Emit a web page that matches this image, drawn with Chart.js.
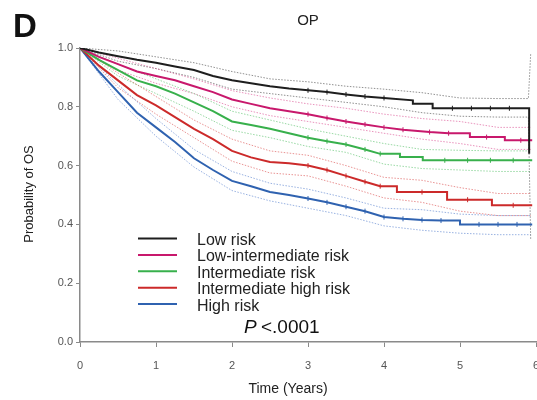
<!DOCTYPE html>
<html>
<head>
<meta charset="utf-8">
<script src="https://cdn.jsdelivr.net/npm/chart.js@4.4.1/dist/chart.umd.min.js"></script>
<style>
  html, body { margin: 0; padding: 0; background: #fff; overflow: hidden; }
  #wrap { position: relative; width: 537px; height: 400px; }
</style>
</head>
<body>
<div id="wrap"><canvas id="kmChart"></canvas></div>
<script>
// survival estimates (years -> probability of OS)
// repeated times are the vertical drops of the step curves
const lowRiskTimes = [0, 0.25, 0.5, 0.75, 1, 1.25, 1.5, 1.75, 2, 2.25, 2.5, 2.75, 3, 3.25, 3.5, 3.75, 4, 4.38, 4.38, 4.64, 4.64, 4.9, 5.15, 5.4, 5.65, 5.91, 5.91];
const lowRisk = [1, 0.985, 0.972, 0.96, 0.95, 0.937, 0.925, 0.905, 0.89, 0.88, 0.87, 0.862, 0.856, 0.85, 0.842, 0.835, 0.83, 0.822, 0.81, 0.81, 0.795, 0.795, 0.795, 0.795, 0.795, 0.795, 0.64];
const lowIntTimes = [0, 0.25, 0.5, 0.75, 1, 1.25, 1.5, 1.75, 2, 2.25, 2.5, 2.75, 3, 3.25, 3.5, 3.75, 4, 4.25, 4.6, 4.85, 5.13, 5.13, 5.35, 5.59, 5.59, 5.8, 5.95];
const lowIntRisk = [1, 0.97, 0.945, 0.92, 0.905, 0.89, 0.87, 0.85, 0.825, 0.81, 0.795, 0.785, 0.775, 0.762, 0.75, 0.74, 0.73, 0.722, 0.714, 0.71, 0.71, 0.697, 0.697, 0.697, 0.686, 0.686, 0.686];
const intTimes = [0, 0.25, 0.5, 0.75, 1, 1.25, 1.5, 1.75, 2, 2.25, 2.5, 2.75, 3, 3.25, 3.5, 3.75, 3.95, 4.21, 4.21, 4.51, 4.51, 4.8, 5.1, 5.4, 5.7, 5.95];
const intRisk = [1, 0.96, 0.925, 0.89, 0.87, 0.845, 0.815, 0.785, 0.75, 0.738, 0.725, 0.71, 0.695, 0.683, 0.672, 0.655, 0.64, 0.64, 0.629, 0.629, 0.618, 0.618, 0.618, 0.618, 0.618, 0.618];
const intHighTimes = [0, 0.25, 0.5, 0.75, 1, 1.25, 1.5, 1.75, 2, 2.25, 2.5, 2.75, 3, 3.25, 3.5, 3.75, 3.95, 4.17, 4.17, 4.5, 4.83, 4.83, 5.1, 5.42, 5.42, 5.7, 5.95];
const intHighRisk = [1, 0.94, 0.89, 0.84, 0.805, 0.765, 0.725, 0.69, 0.65, 0.628, 0.612, 0.608, 0.6, 0.585, 0.565, 0.545, 0.53, 0.53, 0.51, 0.51, 0.51, 0.484, 0.484, 0.484, 0.465, 0.465, 0.465];
const highTimes = [0, 0.25, 0.5, 0.75, 1, 1.25, 1.5, 1.75, 2, 2.25, 2.5, 2.75, 3, 3.25, 3.5, 3.75, 4, 4.25, 4.5, 4.75, 5, 5, 5.25, 5.5, 5.75, 5.95];
const highRisk = [1, 0.92, 0.85, 0.78, 0.73, 0.68, 0.625, 0.585, 0.548, 0.53, 0.51, 0.5, 0.488, 0.475, 0.46, 0.445, 0.425, 0.419, 0.415, 0.413, 0.413, 0.4, 0.4, 0.4, 0.4, 0.4];

// 95% confidence bands (dotted)
const ciTimes = [0, 0.5, 1, 1.5, 2, 2.5, 3, 3.5, 4, 4.5, 5, 5.5, 5.9, 5.93];
const lowUpper = [1, 0.99, 0.97, 0.95, 0.92, 0.895, 0.885, 0.87, 0.86, 0.848, 0.83, 0.828, 0.828, 0.98];
const lowLower = [1, 0.955, 0.93, 0.9, 0.86, 0.845, 0.83, 0.815, 0.8, 0.78, 0.768, 0.765, 0.765, 0.35];
const lowIntUpper = [1, 0.965, 0.93, 0.895, 0.855, 0.83, 0.81, 0.795, 0.775, 0.76, 0.75, 0.73, 0.73, 0.73];
const lowIntLower = [1, 0.925, 0.88, 0.845, 0.8, 0.77, 0.75, 0.73, 0.71, 0.69, 0.675, 0.655, 0.655, 0.655];
const intUpper = [1, 0.945, 0.895, 0.845, 0.785, 0.755, 0.725, 0.7, 0.675, 0.655, 0.652, 0.65, 0.65, 0.65];
const intLower = [1, 0.905, 0.845, 0.785, 0.72, 0.695, 0.665, 0.645, 0.605, 0.59, 0.585, 0.58, 0.58, 0.58];
const intHighUpper = [1, 0.915, 0.835, 0.755, 0.69, 0.65, 0.635, 0.6, 0.56, 0.55, 0.525, 0.505, 0.505, 0.505];
const intHighLower = [1, 0.865, 0.775, 0.695, 0.615, 0.575, 0.565, 0.53, 0.49, 0.475, 0.445, 0.43, 0.43, 0.43];
const highUpper = [1, 0.875, 0.76, 0.655, 0.58, 0.54, 0.52, 0.49, 0.455, 0.45, 0.435, 0.43, 0.43, 0.43];
const highLower = [1, 0.825, 0.7, 0.595, 0.515, 0.48, 0.455, 0.43, 0.395, 0.38, 0.37, 0.365, 0.365, 0.365];

const seriesNames = ["Low risk", "Low-intermediate risk", "Intermediate risk", "Intermediate high risk", "High risk"];
const xTicks = [0, 1, 2, 3, 4, 5, 6];
const yTicks = [0, 0.2, 0.4, 0.6, 0.8, 1.0];

const lineColors = ["#1e1e1e", "#c8186c", "#38b04c", "#cc2a2a", "#2f62b0"];
const ciColors = ["rgba(70,70,70,0.6)", "rgba(215,60,135,0.55)", "rgba(70,185,90,0.55)", "rgba(215,60,60,0.55)", "rgba(70,115,200,0.55)"];

function toPoints(xs, ys) {
  return xs.map((x, i) => ({ x: x, y: ys[i] }));
}

// censor ticks only on the later, non-vertical points
function censorRadius(ctx) {
  const data = ctx.dataset.data;
  const p = data[ctx.dataIndex];
  if (!p || p.x < 3 || p.x > 5.9) return 0;
  const prev = data[ctx.dataIndex - 1];
  const next = data[ctx.dataIndex + 1];
  if ((prev && prev.x === p.x) || (next && next.x === p.x)) return 0;
  return 2.5;
}

const mainTimes = [lowRiskTimes, lowIntTimes, intTimes, intHighTimes, highTimes];
const mainSeries = [lowRisk, lowIntRisk, intRisk, intHighRisk, highRisk];
const upperSeries = [lowUpper, lowIntUpper, intUpper, intHighUpper, highUpper];
const lowerSeries = [lowLower, lowIntLower, intLower, intHighLower, highLower];

const datasets = [];
mainSeries.forEach((ys, i) => {
  datasets.push({
    label: seriesNames[i],
    data: toPoints(mainTimes[i], ys),
    borderColor: lineColors[i],
    backgroundColor: lineColors[i],
    borderWidth: 2,
    pointStyle: "line",
    rotation: 90,
    pointBorderWidth: 1,
    pointRadius: censorRadius,
    order: 0,
  });
});
[upperSeries, lowerSeries].forEach(group => {
  group.forEach((ys, i) => {
    datasets.push({
      label: seriesNames[i] + " CI",
      data: toPoints(ciTimes, ys),
      borderColor: ciColors[i],
      borderWidth: 1,
      borderDash: [1.5, 1.5],
      pointRadius: 0,
      order: 1,
    });
  });
});

const textPlugin = {
  id: "textPlugin",
  afterDraw(chart) {
    const ctx = chart.ctx;
    const area = chart.chartArea;
    ctx.save();
    ctx.fillStyle = "#111";
    ctx.textBaseline = "alphabetic";
    ctx.textAlign = "left";
    ctx.font = "bold 33px Arial, 'Liberation Sans', sans-serif";
    ctx.fillText("D", 13, 37);

    ctx.fillStyle = "#222";
    ctx.textAlign = "center";
    ctx.font = "15px Arial, 'Liberation Sans', sans-serif";
    ctx.fillText("OP", 308, 25);

    // axis titles
    ctx.font = "14px Arial, 'Liberation Sans', sans-serif";
    ctx.textBaseline = "middle";
    ctx.fillText("Time (Years)", 288, 389);
    ctx.save();
    ctx.translate(29, 194);
    ctx.rotate(-Math.PI / 2);
    ctx.font = "13px Arial, 'Liberation Sans', sans-serif";
    ctx.fillText("Probability of OS", 0, 0);
    ctx.restore();

    // legend inside the plot
    ctx.textAlign = "left";
    ctx.font = "16px Arial, 'Liberation Sans', sans-serif";
    seriesNames.forEach((name, i) => {
      const y = 238.5 + i * 16.4;
      ctx.strokeStyle = lineColors[i];
      ctx.lineWidth = 2;
      ctx.beginPath();
      ctx.moveTo(138, y);
      ctx.lineTo(177, y);
      ctx.stroke();
      ctx.fillStyle = "#222";
      ctx.fillText(name, 197, y + 2);
    });

    // log-rank p value
    ctx.fillStyle = "#111";
    ctx.textBaseline = "alphabetic";
    ctx.font = "italic 19px Arial, 'Liberation Sans', sans-serif";
    ctx.fillText("P", 244, 333);
    ctx.font = "19px Arial, 'Liberation Sans', sans-serif";
    ctx.fillText("<.0001", 261, 333);
    ctx.restore();
  },
};

new Chart(document.getElementById("kmChart"), {
  type: "line",
  data: { datasets: datasets },
  plugins: [textPlugin],
  options: {
    responsive: true,
    maintainAspectRatio: false,
    animation: false,
    layout: { autoPadding: false, padding: { top: 48, left: 0, right: 1, bottom: 0 } },
    plugins: {
      legend: { display: false },
      tooltip: { enabled: false },
      title: { display: false },
    },
    scales: {
      x: {
        type: "linear",
        min: 0,
        max: 6,
        afterBuildTicks: scale => { scale.ticks = xTicks.map(v => ({ value: v })); },
        afterFit: scale => {
          scale.height = 58;
          scale.paddingRight = 0;
          scale.paddingLeft = 0;
        },
        grid: { drawOnChartArea: false, tickLength: 5, color: "#8a8a8a", lineWidth: 1 },
        border: { color: "#8a8a8a", width: 1.5 },
        ticks: { color: "#555", padding: 12, font: { size: 11, family: "Arial, 'Liberation Sans', sans-serif" } },
      },
      y: {
        min: 0,
        max: 1,
        afterBuildTicks: scale => { scale.ticks = yTicks.map(v => ({ value: v })); },
        afterFit: scale => { scale.width = 80; },
        grid: { drawOnChartArea: false, tickLength: 4, color: "#8a8a8a", lineWidth: 1 },
        border: { color: "#8a8a8a", width: 1.5 },
        ticks: {
          color: "#555",
          padding: 3,
          font: { size: 11, family: "Arial, 'Liberation Sans', sans-serif" },
          callback: v => v.toFixed(1),
        },
      },
    },
  },
});
</script>
</body>
</html>
